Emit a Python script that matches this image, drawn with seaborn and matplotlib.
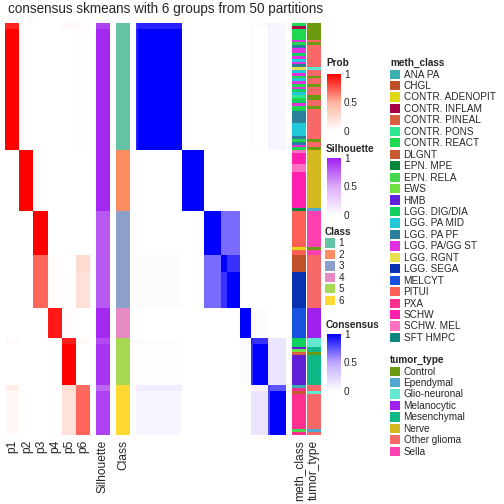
import numpy as np
import matplotlib
matplotlib.use("Agg")
import matplotlib.pyplot as plt
from matplotlib.colors import ListedColormap, LinearSegmentedColormap, Normalize
from matplotlib.cm import ScalarMappable
from matplotlib.patches import Patch
import seaborn as sns

sns.set_style("white")
plt.rcParams['font.family'] = ['Liberation Sans', 'DejaVu Sans']

# sample blocks, top to bottom (same order for consensus columns)
segment_sizes = [2, 44, 22, 16, 6, 13, 11, 2, 15, 2, 16]
segment_class = [1, 1, 2, 3, 3, 3, 4, 5, 5, 6, 6]

# membership probability per block
prob_p1 = [0.90, 1.00, 0.0, 0.0, 0.0, 0.0, 0.0, 0.03, 0.0, 0.10, 0.05]
prob_p2 = [0.0, 0.0, 1.00, 0.0, 0.0, 0.0, 0.0, 0.0, 0.0, 0.0, 0.0]
prob_p3 = [0.0, 0.0, 0.0, 1.00, 0.72, 0.72, 0.0, 0.0, 0.0, 0.0, 0.0]
prob_p4 = [0.0, 0.0, 0.0, 0.0, 0.02, 0.02, 0.93, 0.0, 0.0, 0.0, 0.0]
prob_p5 = [0.05, 0.0, 0.0, 0.0, 0.0, 0.0, 0.02, 0.92, 1.00, 0.25, 0.20]
prob_p6 = [0.03, 0.01, 0.0, 0.0, 0.25, 0.20, 0.0, 0.04, 0.0, 0.70, 0.72]

silhouette = [0.88, 0.97, 0.97, 0.80, 0.80, 0.80, 0.97, 0.85, 0.93, 0.75, 0.88]

# consensus between blocks (rows x columns)
consensus_blocks = [
    [0.85, 0.90, 0, 0, 0, 0, 0, 0.03, 0.02, 0.10, 0.06],
    [0.90, 1.00, 0, 0, 0, 0, 0, 0.02, 0.00, 0.08, 0.06],
    [0, 0, 1.00, 0, 0, 0, 0, 0, 0, 0, 0],
    [0, 0, 0, 1.00, 0.68, 0.68, 0, 0, 0, 0, 0],
    [0.02, 0.02, 0, 0.68, 1.00, 0.85, 0, 0, 0, 0, 0],
    [0.02, 0.02, 0, 0.68, 0.85, 1.00, 0, 0, 0, 0, 0],
    [0, 0, 0, 0, 0, 0, 1.00, 0.02, 0.02, 0, 0],
    [0.02, 0.02, 0, 0, 0, 0, 0.02, 0.90, 0.85, 0.15, 0.15],
    [0.01, 0.01, 0, 0, 0, 0, 0.02, 0.85, 1.00, 0.15, 0.15],
    [0.10, 0.10, 0, 0, 0, 0, 0, 0.08, 0.08, 0.80, 0.75],
    [0.06, 0.06, 0, 0, 0, 0, 0, 0.15, 0.15, 0.80, 1.00],
]

meth_levels = ["ANA PA", "CHGL", "CONTR. ADENOPIT", "CONTR. INFLAM", "CONTR. PINEAL",
               "CONTR. PONS", "CONTR. REACT", "DLGNT", "EPN. MPE", "EPN. RELA", "EWS",
               "HMB", "LGG. DIG/DIA", "LGG. PA MID", "LGG. PA PF", "LGG. PA/GG ST",
               "LGG. RGNT", "LGG. SEGA", "MELCYT", "PITUI", "PXA", "SCHW", "SCHW. MEL",
               "SFT HMPC"]
meth_colors = ["#3AAFB0", "#C0502A", "#E0D814", "#A8004A", "#D86040", "#30E890",
               "#20D850", "#C85A30", "#008838", "#48D850", "#70E040", "#6020D8",
               "#10D060", "#20C8D8", "#2A7F9A", "#E030E0", "#E8E050", "#0830B0",
               "#1850E0", "#FF6055", "#FF3090", "#FF20B0", "#FF70C0", "#108880"]

tumor_levels = ["Control", "Ependymal", "Glio-neuronal", "Melanocytic", "Mesenchymal",
                "Nerve", "Other glioma", "Sella"]
tumor_colors = ["#6B9A10", "#50A8D0", "#60E8D0", "#A020F0", "#10B888", "#D4B820",
                "#F86868", "#FF40B0"]

class_colors = ["#66C2A5", "#FC8D62", "#8DA0CB", "#E78AC3", "#A6D854", "#FFD92F"]

meth_runs = [
    ("CONTR. REACT", 1), ("CONTR. INFLAM", 1), ("CONTR. REACT", 4), ("LGG. PA/GG ST", 1),
    ("CONTR. REACT", 1), ("LGG. PA PF", 1), ("LGG. PA/GG ST", 2), ("LGG. DIG/DIA", 1),
    ("LGG. PA/GG ST", 1), ("LGG. PA MID", 1), ("LGG. PA/GG ST", 1), ("LGG. PA PF", 1),
    ("LGG. RGNT", 1), ("LGG. PA MID", 1), ("LGG. PA/GG ST", 1), ("CONTR. REACT", 1),
    ("LGG. PA MID", 1), ("LGG. PA/GG ST", 1), ("CONTR. REACT", 1), ("LGG. PA/GG ST", 1),
    ("LGG. DIG/DIA", 1), ("LGG. PA MID", 1), ("CONTR. PONS", 1), ("CONTR. REACT", 1),
    ("LGG. DIG/DIA", 1), ("LGG. PA/GG ST", 1), ("CONTR. REACT", 1), ("LGG. DIG/DIA", 1),
    ("LGG. PA PF", 4), ("LGG. PA MID", 5), ("LGG. PA PF", 1), ("CONTR. REACT", 1),
    ("LGG. PA PF", 1), ("LGG. PA/GG ST", 1), ("CONTR. REACT", 1),
    ("SCHW. MEL", 1), ("SCHW", 4), ("SCHW. MEL", 3), ("SCHW", 13), ("EPN. MPE", 1),
    ("PITUI", 13), ("CONTR. ADENOPIT", 1), ("PITUI", 2), ("CHGL", 6), ("LGG. SEGA", 13),
    ("MELCYT", 11),
    ("LGG. DIG/DIA", 3), ("HMB", 1), ("EWS", 1), ("CONTR. PINEAL", 1), ("HMB", 11),
    ("ANA PA", 1), ("PXA", 1), ("DLGNT", 1), ("PXA", 13), ("EPN. RELA", 1), ("PXA", 1),
]

tumor_runs = [
    ("Control", 6), ("Other glioma", 1), ("Control", 1), ("Other glioma", 8),
    ("Glio-neuronal", 1), ("Other glioma", 2), ("Control", 1), ("Other glioma", 2),
    ("Control", 1), ("Other glioma", 3), ("Control", 2), ("Other glioma", 2),
    ("Control", 1), ("Other glioma", 11), ("Control", 1), ("Other glioma", 2), ("Control", 1),
    ("Nerve", 21), ("Ependymal", 1),
    ("Sella", 13), ("Control", 1), ("Sella", 2), ("Other glioma", 19),
    ("Melanocytic", 11),
    ("Glio-neuronal", 3), ("Mesenchymal", 2), ("Control", 1), ("Mesenchymal", 11),
    ("Other glioma", 2), ("Glio-neuronal", 1), ("Other glioma", 13), ("Ependymal", 1),
    ("Other glioma", 1),
]


def expand_runs(runs, levels):
    codes = []
    for label, n in runs:
        codes += [levels.index(label)] * n
    return np.array(codes).reshape(-1, 1)


def ramp(top, mid):
    return LinearSegmentedColormap.from_list("r", ["#FFFFFF", mid, top])


prob_cmap = ramp("#FF0000", "#FFB59F")
sil_cmap = ramp("#A020F0", "#DBABF8")
cons_cmap = ramp("#0000FF", "#BFA8FF")

W = H = 504.0


def px_axes(fig, x0, x1, y0, y1):
    return fig.add_axes([x0 / W, 1 - y1 / H, (x1 - x0) / W, (y1 - y0) / H])


sizes = np.array(segment_sizes)
prob = np.repeat(np.array([prob_p1, prob_p2, prob_p3, prob_p4, prob_p5, prob_p6]).T, sizes, axis=0)
sil = np.repeat(np.array(silhouette), sizes).reshape(-1, 1)
cls = np.repeat(np.array(segment_class), sizes).reshape(-1, 1) - 1
cons = np.repeat(np.repeat(np.array(consensus_blocks), sizes, axis=0), sizes, axis=1)
meth = expand_runs(meth_runs, meth_levels)
tumor = expand_runs(tumor_runs, tumor_levels)

fig = plt.figure(figsize=(7, 7), dpi=72)
top, bottom = 23, 435

blocks = [
    (5, 90, prob, prob_cmap, 0, 1),
    (96, 110, sil, sil_cmap, 0, 1),
    (116, 130, cls, ListedColormap(class_colors), -0.5, 5.5),
    (136, 286, cons, cons_cmap, 0, 1),
    (292, 306, meth, ListedColormap(meth_colors), -0.5, len(meth_levels) - 0.5),
    (307, 321, tumor, ListedColormap(tumor_colors), -0.5, len(tumor_levels) - 0.5),
]
for x0, x1, mat, cmap, vmin, vmax in blocks:
    ax = px_axes(fig, x0, x1, top, bottom)
    sns.heatmap(mat, ax=ax, cmap=cmap, vmin=vmin, vmax=vmax, cbar=False,
                xticklabels=False, yticklabels=False)

# column names
col_names = [("p1", 12.5), ("p2", 27), ("p3", 41), ("p4", 55), ("p5", 69), ("p6", 83),
             ("Silhouette", 103), ("Class", 123), ("meth_class", 299), ("tumor_type", 314)]
for name, xc in col_names:
    fig.text(xc / W, 1 - 440 / H, name, rotation=90, ha="center", va="top", fontsize=12)

fig.text(166 / W, 1 - 2 / H, "consensus skmeans with 6 groups from 50 partitions",
         ha="center", va="top", fontsize=13.5)


# continuous legends
def color_legend(title, cmap, y_title, y0, y1):
    fig.text(326 / W, 1 - y_title / H, title, fontsize=10, weight="bold", va="center")
    cax = px_axes(fig, 327, 341, y0, y1)
    cb = fig.colorbar(ScalarMappable(Normalize(0, 1), cmap), cax=cax, ticks=[0, 0.5, 1])
    cb.outline.set_visible(False)
    cb.ax.set_yticklabels(["0", "0.5", "1"])
    cb.ax.tick_params(length=3, width=1, color="white", direction="in", labelsize=10, pad=3)


color_legend("Prob", prob_cmap, 63, 74, 131)
color_legend("Silhouette", sil_cmap, 149, 158, 215)
color_legend("Consensus", cons_cmap, 325, 334, 391)


def cat_legend(title, labels, colors, x, y):
    handles = [Patch(facecolor=c, edgecolor="none") for c in colors]
    leg = fig.legend(handles, labels, title=title, loc="upper left",
                     bbox_to_anchor=(x / W, 1 - y / H), frameon=False, fontsize=10,
                     title_fontproperties={"weight": "bold", "size": 10},
                     handlelength=1.0, handleheight=1.05, handletextpad=0.35,
                     labelspacing=0.14, borderpad=0, borderaxespad=0, alignment="left")
    return leg


cat_legend("Class", [str(i) for i in range(1, 7)], class_colors, 325, 227)
cat_legend("meth_class", meth_levels, meth_colors, 390, 58)
cat_legend("tumor_type", tumor_levels, tumor_colors, 390, 355)

fig.savefig("out.png", dpi=72)
